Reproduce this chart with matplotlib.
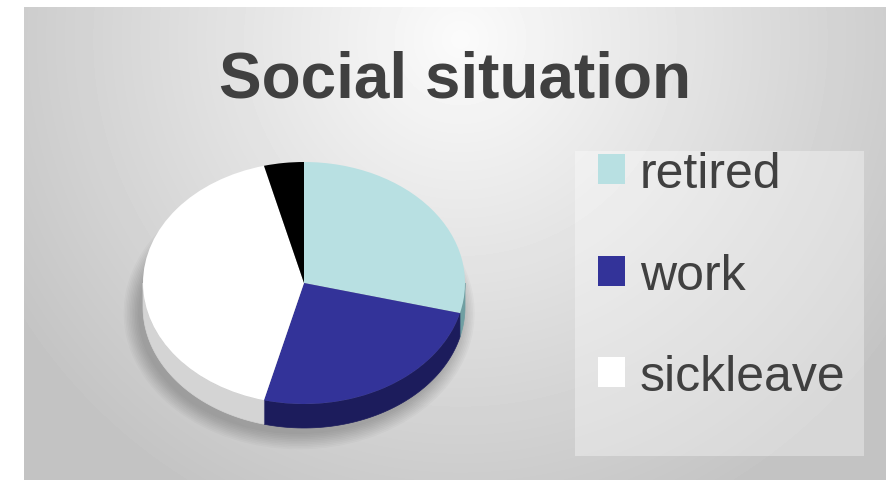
import numpy as np
import matplotlib.pyplot as plt
from matplotlib.patches import Polygon, Ellipse, Rectangle

# Data
labels = ["retired", "work", "sickleave", "other"]
shares = [29, 25, 42, 4]
top_colors = ["#b8e0e2", "#333399", "#ffffff", "#000000"]
side_colors = ["#6f9fa2", "#1c1c5c", "#d4d4d4", "#111111"]
legend_count = 3
title = "Social situation"

W, H, DPI = 886, 481, 100
FONT = "Liberation Sans"

fig = plt.figure(figsize=(W / DPI, H / DPI), dpi=DPI)
fig.patch.set_facecolor("white")

# Grey radial background, pixel coordinates (y down)
bg = fig.add_axes([24 / W, 0, 1 - 24 / W, 1 - 8 / H])
yy, xx = np.mgrid[8:H, 24:W]
r = np.hypot((xx - 460) / 520, (yy - 40) / 520)
shade = 251 - 55 * np.clip(r, 0, 1)
bg.imshow(shade, cmap="gray", vmin=0, vmax=255, aspect="auto",
          extent=(24, W, H, 8), interpolation="bilinear")
bg.add_patch(Rectangle((575, 152), 289, 305, facecolor="white", alpha=0.35,
                       edgecolor="none"))
bg.axis("off")

fig.text(455.5 / W, 1 - 98 / H, title, ha="center", va="baseline",
         fontsize=46, fontweight="bold", color="#404040", family=FONT)

# Pie: a circle squashed into an ellipse by the axes box
cx, cy, a, b = 304, 284, 161, 121
depth = 24 / b
ax = fig.add_axes([(cx - 1.25 * a) / W, 1 - (cy + 1.25 * b) / H,
                   2.5 * a / W, 2.5 * b / H])
wedges, _ = ax.pie(shares, colors=top_colors, startangle=90, counterclock=False,
                   wedgeprops=dict(linewidth=0, zorder=3))
ax.set_aspect("auto")
ax.set_xlim(-1.25, 1.25)
ax.set_ylim(-1.25, 1.25)

# soft drop shadow
for k in range(10):
    grow = 0.02 * k
    ax.add_patch(Ellipse((-0.03, -depth - 0.05), 2 + grow, 2 + grow * 1.4,
                         facecolor="black", alpha=0.022, edgecolor="none",
                         zorder=1, clip_on=False))

# side walls of the front half
for w, col in zip(wedges, side_colors):
    for off in (-360, 0):
        lo = max(w.theta1, 180 + off)
        hi = min(w.theta2, 360 + off)
        if hi <= lo:
            continue
        t = np.radians(np.linspace(lo, hi, 60))
        top = np.column_stack([np.cos(t), np.sin(t)])
        bottom = top[::-1] - [0, depth]
        ax.add_patch(Polygon(np.vstack([top, bottom]), closed=True,
                             facecolor=col, edgecolor=col, linewidth=0.5,
                             zorder=2))

ax.legend(wedges[:legend_count], labels[:legend_count], loc="upper left",
          bbox_to_anchor=(598 / W, 1 - 152 / H), bbox_transform=fig.transFigure,
          frameon=False, prop={"family": FONT, "size": 36}, labelcolor="#404040",
          handlelength=0.54, handleheight=0.54, handletextpad=0.3,
          labelspacing=1.11, borderpad=0, borderaxespad=0)

fig.savefig("out.png", dpi=DPI)
